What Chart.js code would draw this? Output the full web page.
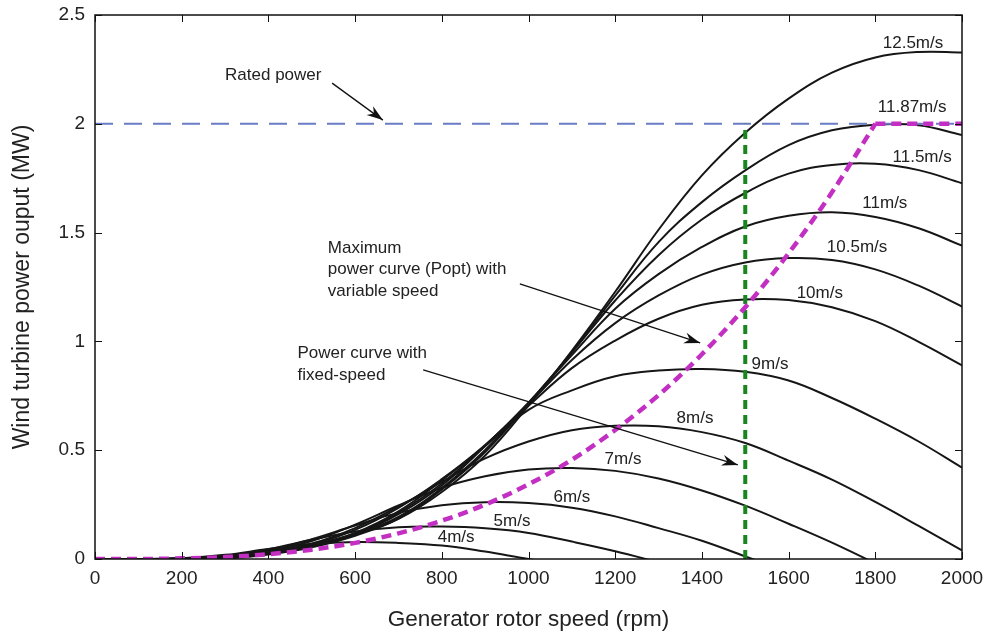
<!DOCTYPE html>
<html lang="en">
<head>
<meta charset="UTF-8">
<title>Wind turbine power curves</title>
<script src="https://cdn.jsdelivr.net/npm/chart.js"></script>
<style>
    html, body { margin: 0; padding: 0; background: #fff; }
    #wrap { width: 992px; height: 636px; position: relative; }
</style>
</head>
<body>
<div id="wrap"><canvas id="powerChart"></canvas></div>
<script>
// generator speed grid (rpm)
const rpm = [0, 100, 200, 300, 400, 500, 600, 700, 800, 900, 1000, 1100, 1200, 1300, 1400, 1500, 1600, 1700, 1800, 1900, 2000];

// power (MW), one array per wind speed
const p4   = [0, 0, 0.004, 0.019, 0.046, 0.069, 0.078, 0.074, 0.062, 0.034, 0.0, -0.03, null, null, null, null, null, null, null, null, null];
const p5   = [0, 0, 0.003, 0.015, 0.045, 0.088, 0.126, 0.146, 0.149, 0.141, 0.120, 0.080, 0.036, -0.015, null, null, null, null, null, null, null];
const p6   = [0, 0, 0.003, 0.014, 0.040, 0.091, 0.154, 0.212, 0.247, 0.261, 0.257, 0.236, 0.196, 0.142, 0.084, 0.012, -0.06, null, null, null, null];
const p7   = [0, 0, 0.002, 0.013, 0.036, 0.083, 0.158, 0.246, 0.327, 0.380, 0.411, 0.418, 0.405, 0.370, 0.315, 0.245, 0.162, 0.075, -0.02, null, null];
const p8   = [0, 0, 0.001, 0.011, 0.032, 0.071, 0.142, 0.241, 0.354, 0.462, 0.540, 0.592, 0.612, 0.610, 0.583, 0.533, 0.452, 0.365, 0.262, 0.152, 0.040];
const p9   = [0, 0, 0, 0.010, 0.030, 0.067, 0.134, 0.235, 0.367, 0.520, 0.685, 0.775, 0.840, 0.866, 0.873, 0.860, 0.820, 0.740, 0.645, 0.540, 0.420];
const p10  = [0, 0, 0, 0.008, 0.027, 0.065, 0.120, 0.219, 0.361, 0.524, 0.704, 0.877, 1.004, 1.104, 1.168, 1.193, 1.190, 1.157, 1.093, 0.998, 0.890];
const p105 = [0, 0, 0, 0.007, 0.026, 0.061, 0.118, 0.213, 0.347, 0.522, 0.712, 0.915, 1.084, 1.211, 1.307, 1.363, 1.383, 1.374, 1.331, 1.256, 1.160];
const p11  = [0, 0, 0, 0.006, 0.026, 0.059, 0.114, 0.206, 0.338, 0.519, 0.718, 0.937, 1.150, 1.309, 1.434, 1.528, 1.577, 1.593, 1.572, 1.520, 1.440];
const p115 = [0, 0, 0, 0.005, 0.025, 0.058, 0.113, 0.193, 0.326, 0.501, 0.717, 0.948, 1.188, 1.396, 1.560, 1.682, 1.771, 1.811, 1.816, 1.787, 1.727];
const p1187 = [0, 0, 0, 0.004, 0.024, 0.058, 0.112, 0.186, 0.320, 0.492, 0.712, 0.951, 1.210, 1.456, 1.640, 1.786, 1.902, 1.970, 1.996, 1.993, 1.948];
const p125 = [0, 0, 0, 0.002, 0.021, 0.054, 0.107, 0.184, 0.308, 0.476, 0.705, 0.957, 1.228, 1.513, 1.763, 1.959, 2.116, 2.235, 2.305, 2.330, 2.328];

const speedNames = ['4m/s', '5m/s', '6m/s', '7m/s', '8m/s', '9m/s', '10m/s', '10.5m/s', '11m/s', '11.5m/s', '11.87m/s', '12.5m/s'];
const speedCurves = [p4, p5, p6, p7, p8, p9, p10, p105, p11, p115, p1187, p125];

// maximum power (variable speed) curve, capped at rated power from 1800 rpm
const pOpt = [0, 0, 0.003, 0.009, 0.022, 0.043, 0.074, 0.118, 0.176, 0.250, 0.343, 0.456, 0.593, 0.753, 0.941, 1.157, 1.405, 1.685, 2.0, 2.0, 2.0];
const capIndex = 18;

// rated power line and fixed-speed line
const ratedRpm = [0, 2000];
const ratedPower = [2, 2];
const fixedRpm = [1500, 1500];
const fixedPower = [0, 2];

// label spots in data units [rpm, MW]
const speedLabelAt = [[833, 0.101], [962, 0.175], [1100, 0.285], [1218, 0.46], [1384, 0.648], [1557, 0.895],
    [1672, 1.223], [1758, 1.434], [1822, 1.636], [1908, 1.847], [1885, 2.078], [1887, 2.371]];

const notes = [
    { lines: ['Rated power'], at: [300, 2.225] },
    { lines: ['Maximum', 'power curve (Popt) with', 'variable speed'], at: [537, 1.429] },
    { lines: ['Power curve with', 'fixed-speed'], at: [467, 0.945] }
];
const arrows = [
    [[547, 2.187], [664, 2.017]],
    [[980, 1.264], [1396, 0.993]],
    [[757, 0.869], [1483, 0.432]]
];

const FONT = "'Liberation Sans', Arial, Helvetica, sans-serif";

function pts(xs, ys) {
    return xs.map((x, i) => ({ x: x, y: ys[i] }));
}

const datasets = [];
datasets.push({
    data: pts(rpm.slice(0, capIndex + 1), pOpt.slice(0, capIndex + 1)), borderColor: '#c22fc2',
    borderWidth: 4.5, borderDash: [10, 6], order: 0, cubicInterpolationMode: 'monotone'
});
datasets.push({
    data: pts(rpm.slice(capIndex), pOpt.slice(capIndex)), borderColor: '#c22fc2',
    borderWidth: 4.5, borderDash: [10, 6], order: 0, tension: 0
});
datasets.push({
    data: pts(fixedRpm, fixedPower), borderColor: '#18861e', borderWidth: 4,
    borderDash: [9, 6], order: 1
});
datasets.push({
    data: pts(ratedRpm, ratedPower), borderColor: '#6a7cc8', borderWidth: 2,
    borderDash: [18, 11], order: 2
});
speedCurves.forEach((arr, i) => {
    datasets.push({
        label: speedNames[i], data: pts(rpm, arr), borderColor: '#161616',
        borderWidth: 2, order: 10, tension: 0.4, spanGaps: false
    });
});

const annotate = {
    id: 'annotate',
    afterDraw(chart) {
        const ctx = chart.ctx;
        const xs = chart.scales.x, ys = chart.scales.y;
        const a = chart.chartArea;
        ctx.save();

        // frame + inward ticks on all four sides
        ctx.strokeStyle = '#111';
        ctx.lineWidth = 1.5;
        ctx.strokeRect(a.left, a.top, a.right - a.left, a.bottom - a.top);
        ctx.lineWidth = 1;
        xs.ticks.forEach(t => {
            const x = Math.round(xs.getPixelForValue(t.value)) + 0.5;
            ctx.beginPath();
            ctx.moveTo(x, a.bottom); ctx.lineTo(x, a.bottom - 7);
            ctx.moveTo(x, a.top); ctx.lineTo(x, a.top + 7);
            ctx.stroke();
        });
        ys.ticks.forEach(t => {
            const y = Math.round(ys.getPixelForValue(t.value)) + 0.5;
            ctx.beginPath();
            ctx.moveTo(a.left, y); ctx.lineTo(a.left + 7, y);
            ctx.moveTo(a.right, y); ctx.lineTo(a.right - 7, y);
            ctx.stroke();
        });

        // wind speed labels
        ctx.fillStyle = '#222';
        ctx.font = '17px ' + FONT;
        ctx.textAlign = 'center';
        ctx.textBaseline = 'middle';
        speedNames.forEach((s, i) => {
            const p = speedLabelAt[i];
            ctx.fillText(s, xs.getPixelForValue(p[0]), ys.getPixelForValue(p[1]));
        });

        // notes
        ctx.textAlign = 'left';
        notes.forEach(n => {
            const x = xs.getPixelForValue(n.at[0]);
            const y0 = ys.getPixelForValue(n.at[1]);
            n.lines.forEach((l, k) => ctx.fillText(l, x, y0 + k * 21.5));
        });

        // arrows
        ctx.strokeStyle = '#111';
        ctx.fillStyle = '#111';
        ctx.lineWidth = 1.3;
        arrows.forEach(ar => {
            const x1 = xs.getPixelForValue(ar[0][0]), y1 = ys.getPixelForValue(ar[0][1]);
            const x2 = xs.getPixelForValue(ar[1][0]), y2 = ys.getPixelForValue(ar[1][1]);
            const ang = Math.atan2(y2 - y1, x2 - x1);
            ctx.beginPath();
            ctx.moveTo(x1, y1); ctx.lineTo(x2, y2);
            ctx.stroke();
            ctx.beginPath();
            ctx.moveTo(x2, y2);
            ctx.lineTo(x2 - 17 * Math.cos(ang - 0.33), y2 - 17 * Math.sin(ang - 0.33));
            ctx.lineTo(x2 - 11 * Math.cos(ang), y2 - 11 * Math.sin(ang));
            ctx.lineTo(x2 - 17 * Math.cos(ang + 0.33), y2 - 17 * Math.sin(ang + 0.33));
            ctx.closePath();
            ctx.fill();
        });
        ctx.restore();
    }
};

new Chart(document.getElementById('powerChart'), {
    type: 'line',
    data: { datasets: datasets },
    options: {
        responsive: true,
        maintainAspectRatio: false,
        animation: false,
        elements: { point: { radius: 0 } },
        layout: { padding: { top: 15, right: 30, left: 0, bottom: 0 } },
        plugins: { legend: { display: false }, tooltip: { enabled: false } },
        scales: {
            x: {
                type: 'linear', min: 0, max: 2000,
                ticks: { stepSize: 200, color: '#222', font: { family: FONT, size: 19 }, padding: 8, maxRotation: 0,
                    callback: v => String(v) },
                grid: { display: false, drawTicks: false },
                border: { display: false },
                title: { display: true, text: 'Generator rotor speed (rpm)', color: '#222',
                    font: { family: FONT, size: 22.5 }, padding: { top: 0, bottom: 3 } },
                afterFit(s) { s.height = 77; s.paddingLeft = 0; s.paddingRight = 0; }
            },
            y: {
                min: 0, max: 2.5,
                ticks: { stepSize: 0.5, color: '#222', font: { family: FONT, size: 19 }, padding: 10,
                    callback: v => String(v) },
                grid: { display: false, drawTicks: false },
                border: { display: false },
                title: { display: true, text: 'Wind turbine power ouput (MW)', color: '#222',
                    font: { family: FONT, size: 23 }, padding: { top: 9, bottom: 0 } },
                afterFit(s) { s.width = 95; s.paddingTop = 0; s.paddingBottom = 0; }
            }
        }
    },
    plugins: [annotate]
});
</script>
</body>
</html>
